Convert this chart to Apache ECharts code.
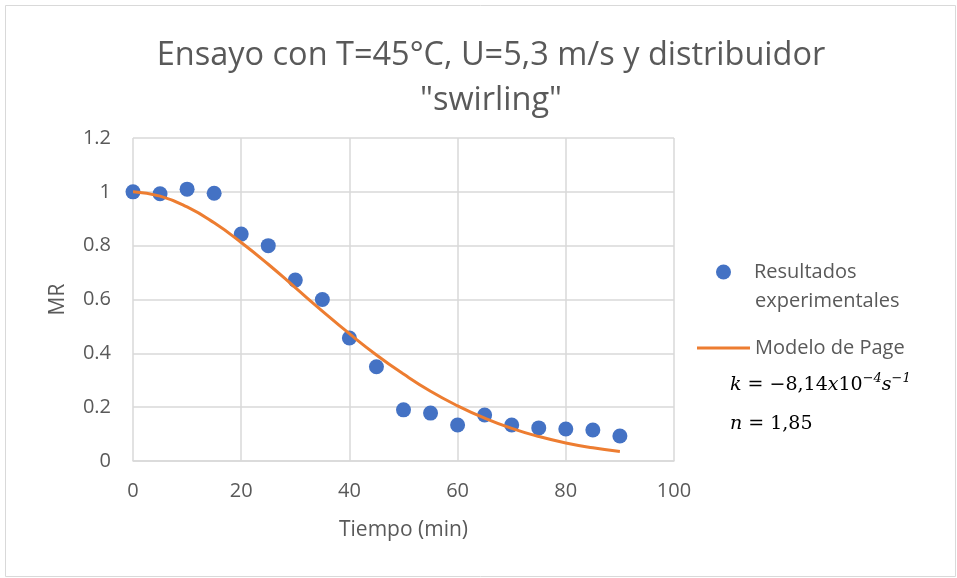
<!DOCTYPE html>
<html><head><meta charset="utf-8">
<script src="https://cdn.jsdelivr.net/npm/echarts@6/dist/echarts.min.js"></script>
<style>html,body{margin:0;padding:0;background:#fff}#c{width:957px;height:578px}</style>
</head><body><div id="c"></div>
<script>
const tiempo = [0,5,10,15,20,25,30,35,40,45,50,55,60,65,70,75,80,85,90];
const mrExperimental = [1.0,0.993,1.01,0.995,0.843,0.80,0.672,0.60,0.457,0.35,0.19,0.178,0.134,0.171,0.134,0.123,0.119,0.115,0.093];
const mrModelo = [1.0,0.984,0.944,0.885,0.812,0.731,0.644,0.557,0.473,0.394,0.323,0.259,0.205,0.159,0.121,0.091,0.067,0.049,0.035];
const titulo = 'Ensayo con T=45°C, U=5,3 m/s y distribuidor\n"swirling"';
const nombreExp = 'Resultados experimentales';
const nombreMod = 'Modelo de Page';

const FONT = '"Open Sans", sans-serif';
const MATH = '"DejaVu Serif", serif';
const GREY = '#595959';
const chart = echarts.init(document.getElementById('c'), null, {renderer:'canvas'});
chart.setOption({
  animation:false,
  backgroundColor:'#fff',
  title:{text:titulo,left:486,textAlign:'center',top:28,
    textStyle:{fontFamily:FONT,fontSize:32.5,fontWeight:'normal',color:GREY,lineHeight:45}},
  grid:{left:133,right:283,top:138,bottom:117},
  xAxis:{type:'value',min:0,max:100,interval:20,name:'Tiempo (min)',nameLocation:'middle',nameGap:59,
    nameTextStyle:{fontFamily:FONT,fontSize:21,color:GREY},
    axisLine:{show:true,lineStyle:{color:'#d9d9d9',width:1.5}},axisTick:{show:false},
    axisLabel:{fontFamily:FONT,fontSize:20,color:GREY,margin:20},
    splitLine:{show:true,lineStyle:{color:'#d9d9d9',width:1.5}}},
  yAxis:{type:'value',min:0,max:1.2,interval:0.2,name:'MR',nameLocation:'middle',nameGap:64,
    nameTextStyle:{fontFamily:FONT,fontSize:21,color:GREY},
    axisLine:{show:false},axisTick:{show:false},
    axisLabel:{fontFamily:FONT,fontSize:20,color:GREY,margin:22,formatter:v=>String(Math.round(v*10)/10)},
    splitLine:{show:true,lineStyle:{color:'#d9d9d9',width:1.5}}},
  legend:[
    {data:[{name:nombreExp,icon:'circle'}],orient:'vertical',left:716,top:262,padding:0,itemWidth:15,itemHeight:15,itemGap:0,
      formatter:()=>'Resultados',
      textStyle:{fontFamily:FONT,fontSize:20,color:GREY,padding:[0,0,0,18]}},
    {data:[{name:nombreMod,icon:'rect'}],orient:'vertical',left:697,top:338,padding:0,itemWidth:53,itemHeight:3,itemGap:0,
      textStyle:{fontFamily:FONT,fontSize:20,color:GREY}}
  ],
  graphic:[
    {type:'rect',left:3,top:3,shape:{width:950,height:571},style:{fill:'none',stroke:'#d9d9d9',lineWidth:1},silent:true},
    {type:'text',x:755,y:301,style:{text:'experimentales',verticalAlign:'middle',fontFamily:FONT,fontSize:20,fill:GREY}},
    {type:'text',x:730,y:385,style:{
      text:'{i|k} = −8,14{i|x}10{s|−4}{i|s}{s|−1}',verticalAlign:'middle',
      rich:{i:{fontFamily:MATH,fontStyle:'italic',fontSize:19,fill:'#000'},
            s:{fontFamily:MATH,fontStyle:'italic',fontSize:13,fill:'#000',verticalAlign:'top',padding:[0,0,12,0]}},
      fontFamily:MATH,fontSize:19,fill:'#000'}},
    {type:'text',x:730,y:424,style:{
      text:'{i|n} = 1,85',verticalAlign:'middle',
      rich:{i:{fontFamily:MATH,fontStyle:'italic',fontSize:19,fill:'#000'}},
      fontFamily:MATH,fontSize:19,fill:'#000'}}
  ],
  series:[
    {name:nombreExp,type:'scatter',data:tiempo.map((t,i)=>[t,mrExperimental[i]]),
      symbol:'circle',symbolSize:15,itemStyle:{color:'#4472c4',opacity:1},z:3},
    {name:nombreMod,type:'line',data:tiempo.map((t,i)=>[t,mrModelo[i]]),smooth:true,showSymbol:false,
      lineStyle:{color:'#ed7d31',width:3},itemStyle:{color:'#ed7d31'},z:4}
  ]
});
</script></body></html>
